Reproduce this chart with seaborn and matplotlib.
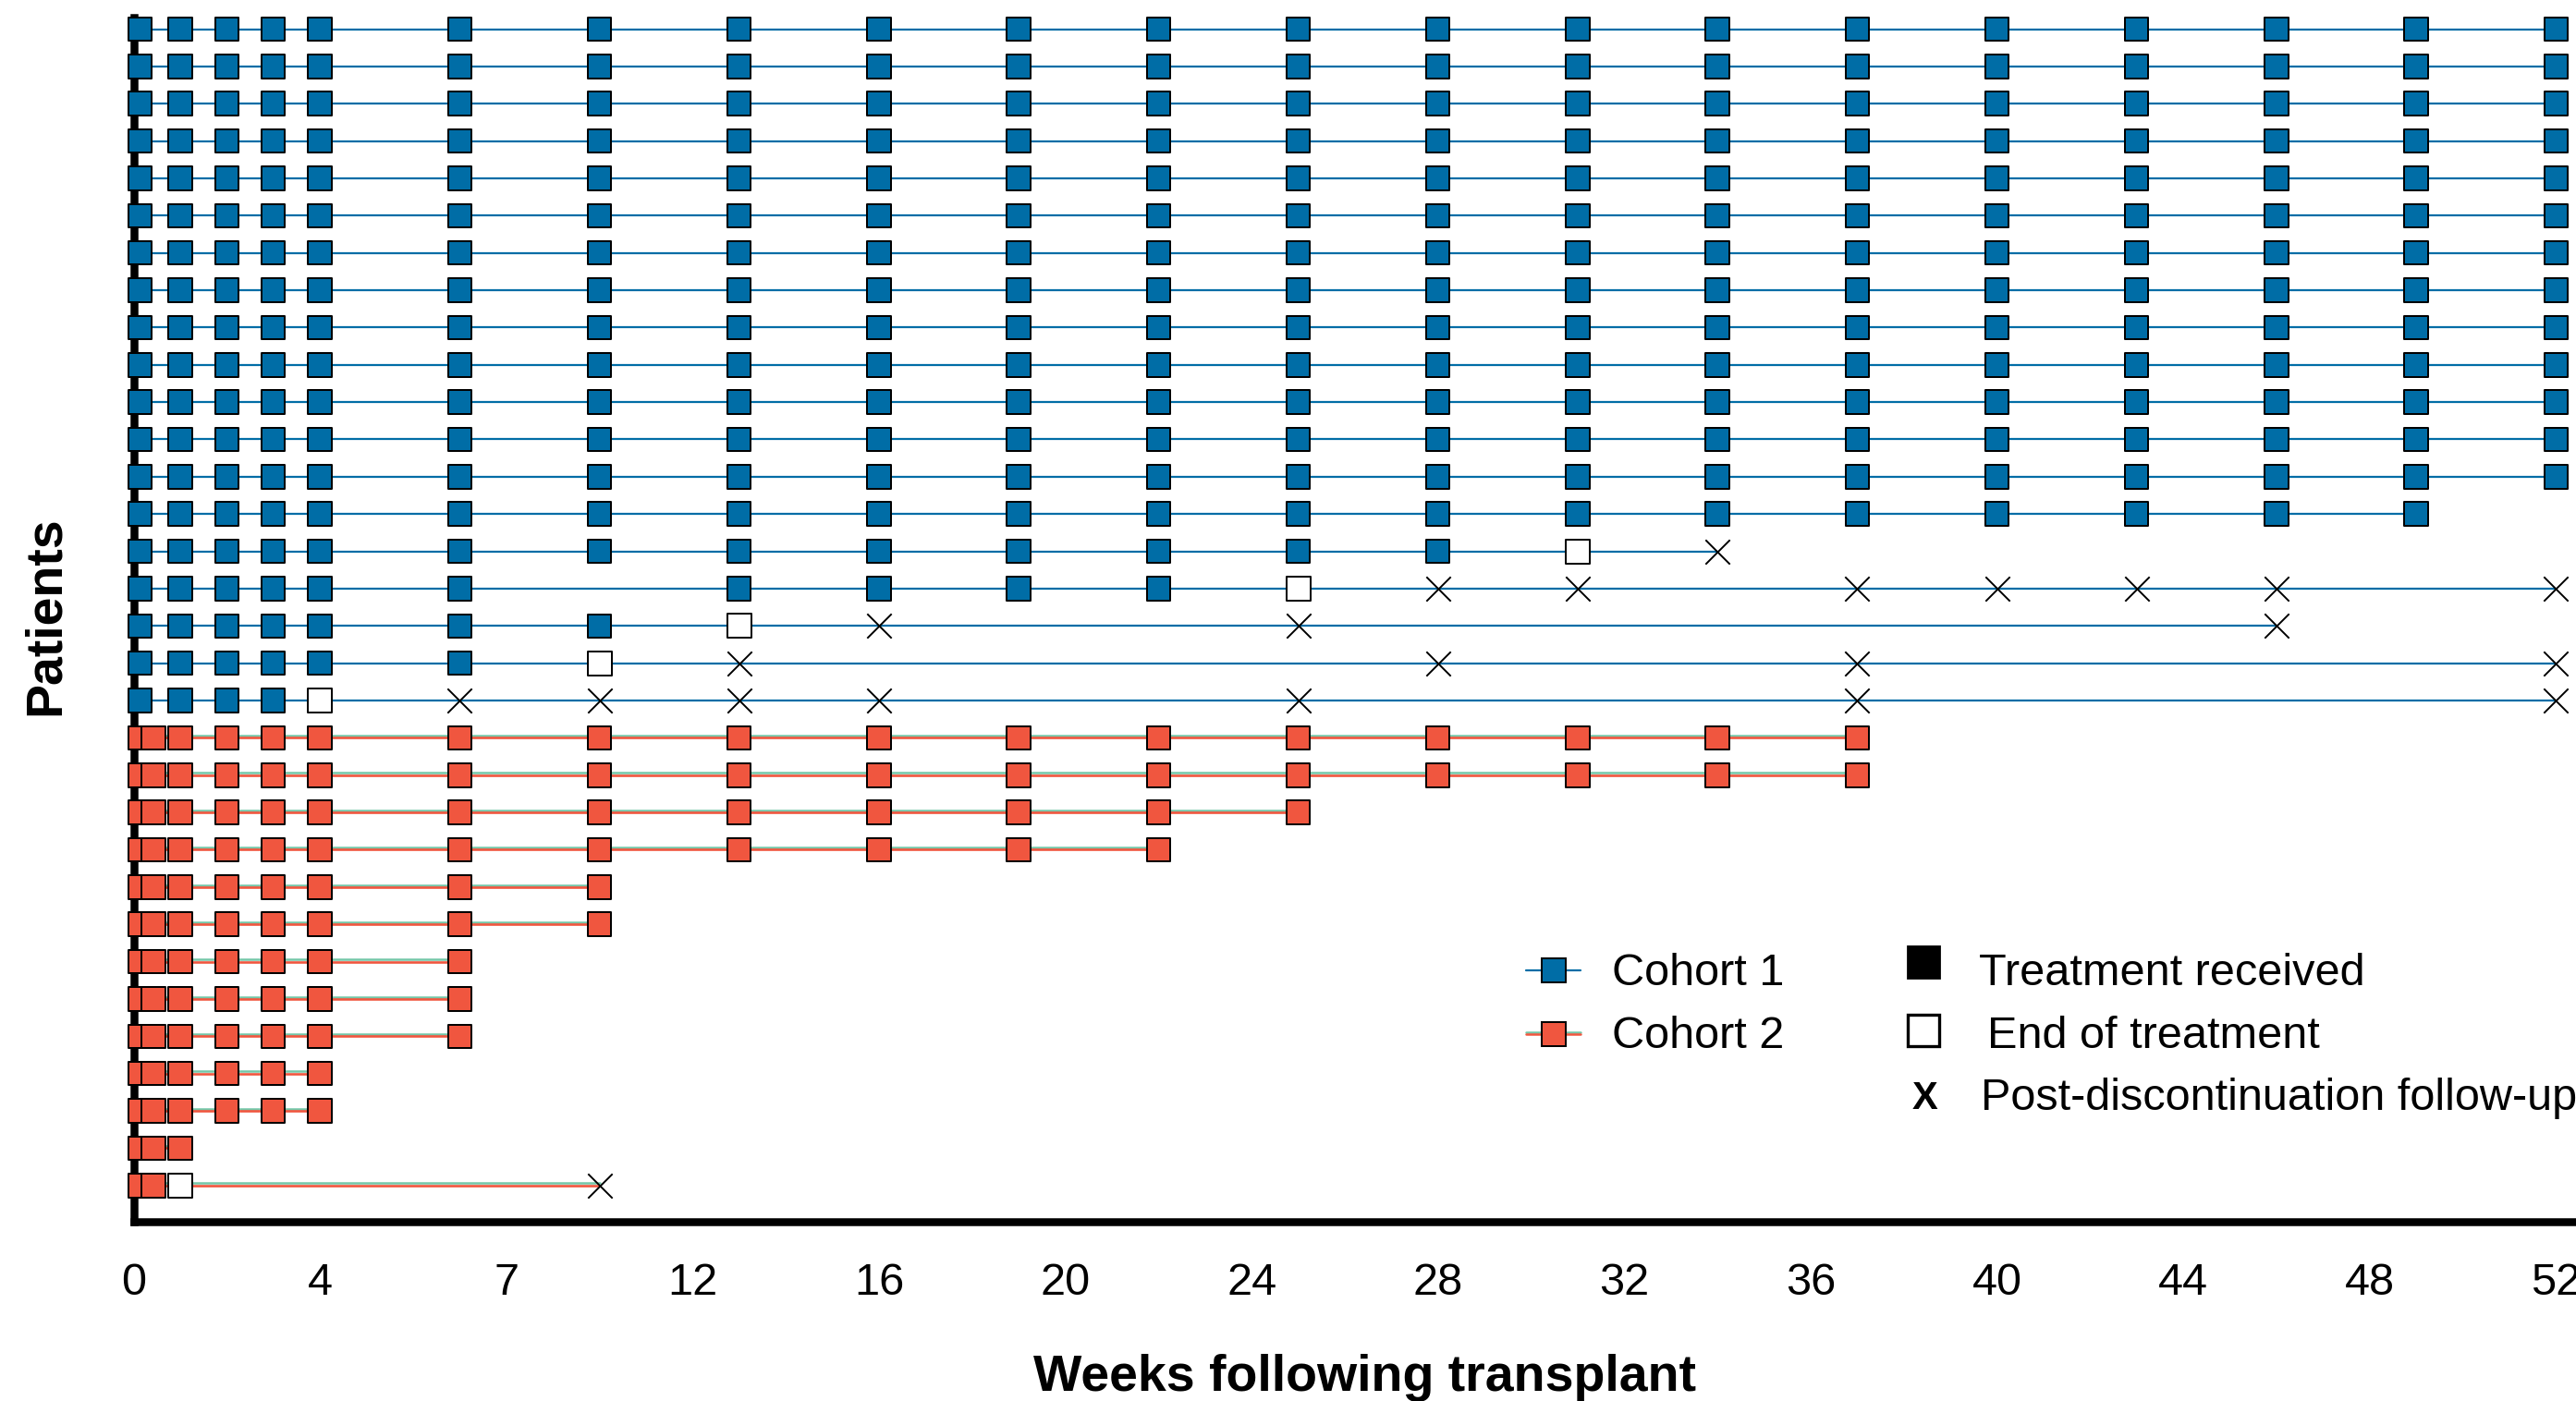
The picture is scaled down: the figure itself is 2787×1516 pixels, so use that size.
import numpy as np
import pandas as pd
import matplotlib
matplotlib.use("Agg")
import matplotlib.pyplot as plt
import matplotlib.transforms as mtransforms
from matplotlib.lines import Line2D
import seaborn as sns

# ---------------- data ----------------
visit_weeks_c1 = [0.14, 1, 2, 3, 4, 7, 10, 13, 16, 19, 22, 25, 28, 31, 34, 37, 40, 43, 46, 49, 52]
visit_weeks_c2 = [0.14, 0.43, 1, 2, 3, 4, 7, 10, 13, 16, 19, 22, 25, 28, 31, 34, 37]

# Cohort 1 patients, listed top to bottom
c1_last_treated = [52, 52, 52, 52, 52, 52, 52, 52, 52, 52, 52, 52, 52, 49, 28, 22, 10, 7, 3]
c1_missed_visits = [[], [], [], [], [], [], [], [], [], [], [], [], [], [], [], [10], [], [], []]
c1_end_of_treatment = [None, None, None, None, None, None, None, None, None, None, None, None, None,
                       None, 31, 25, 13, 10, 4]
c1_followup = [[], [], [], [], [], [], [], [], [], [], [], [], [], [],
               [34],
               [28, 31, 37, 40, 43, 46, 52],
               [16, 25, 46],
               [13, 28, 37, 52],
               [7, 10, 13, 16, 25, 37, 52]]

# Cohort 2 patients, listed top to bottom
c2_last_treated = [37, 37, 25, 22, 10, 10, 7, 7, 7, 4, 4, 1, 0.43]
c2_end_of_treatment = [None, None, None, None, None, None, None, None, None, None, None, None, 1]
c2_followup = [[], [], [], [], [], [], [], [], [], [], [], [], [10]]

x_tick_positions = [0, 4, 8, 12, 16, 20, 24, 28, 32, 36, 40, 44, 48, 52]
x_tick_labels = ["0", "4", "7", "12", "16", "20", "24", "28", "32", "36", "40", "44", "48", "52"]

cohort_names = ["Cohort 1", "Cohort 2"]
BLUE = "#006DA6"
RED = "#F0563F"
TEAL = "#74C7A8"
palette = {"Cohort 1": BLUE, "Cohort 2": RED}

# ---------------- build the event table ----------------
records = []
n_patients = len(c1_last_treated) + len(c2_last_treated)
row = n_patients
pid = 0
for cohort, schedule, last, missed, ends, fus in [
    ("Cohort 1", visit_weeks_c1, c1_last_treated, c1_missed_visits, c1_end_of_treatment, c1_followup),
    ("Cohort 2", visit_weeks_c2, c2_last_treated, [[] for _ in c2_last_treated], c2_end_of_treatment, c2_followup),
]:
    for i in range(len(last)):
        for w in schedule:
            if w <= last[i] and w not in missed[i]:
                records.append((pid, row, cohort, w, "treated"))
        if ends[i] is not None:
            records.append((pid, row, cohort, ends[i], "end"))
        for w in fus[i]:
            records.append((pid, row, cohort, w, "followup"))
        pid += 1
        row -= 1

events = pd.DataFrame(records, columns=["pid", "row", "cohort", "week", "kind"])
events = events.sort_values(["pid", "week"]).reset_index(drop=True)

# ---------------- figure ----------------
W, H, DPI = 2787, 1516, 200
sns.set_style("white")
plt.rcParams["font.family"] = ["Liberation Sans", "DejaVu Sans"]
plt.rcParams["text.color"] = "black"
plt.rcParams["axes.labelcolor"] = "black"
plt.rcParams["xtick.color"] = "black"

fig = plt.figure(figsize=(W / DPI, H / DPI), dpi=DPI)
x0_px, y_axis_px = 144.5, 1321.7
ax = fig.add_axes([x0_px / W, 1 - y_axis_px / H, 1 - x0_px / W, (y_axis_px - 19.4) / H])

# teal under-line for cohort 2 (slightly shifted upward)
n_before = len(ax.lines)
sns.lineplot(data=events[events.cohort == "Cohort 2"], x="week", y="row", units="pid",
             estimator=None, sort=True, color=TEAL, linewidth=0.9, legend=False, ax=ax, zorder=1.8)
shift = mtransforms.ScaledTranslation(0, 2.3 / DPI, fig.dpi_scale_trans)
for ln in ax.lines[n_before:]:
    ln.set_transform(ax.transData + shift)

# main patient lines
sns.lineplot(data=events, x="week", y="row", units="pid", estimator=None, sort=True,
             hue="cohort", palette=palette, linewidth=0.8, legend=False, ax=ax, zorder=2)
for ln in ax.lines:
    if matplotlib.colors.same_color(ln.get_color(), RED):
        ln.set_linewidth(0.95)

# markers
sq = 9.2
sns.scatterplot(data=events[events.kind == "treated"], x="week", y="row", hue="cohort",
                palette=palette, marker="s", s=sq ** 2, edgecolor="black", linewidth=0.72,
                legend=False, ax=ax, zorder=4, clip_on=False)
sns.scatterplot(data=events[events.kind == "end"], x="week", y="row", color="white",
                marker="s", s=sq ** 2, edgecolor="black", linewidth=0.72,
                legend=False, ax=ax, zorder=4, clip_on=False)
sns.scatterplot(data=events[events.kind == "followup"], x="week", y="row", color="black",
                marker="x", s=9.5 ** 2, linewidth=0.7, legend=False, ax=ax, zorder=4, clip_on=False)

# axes styling
ax.set_xlim(0, (W - x0_px) / 50.4)
ax.set_ylim(0.035, 32.3)
ax.set_xticks(x_tick_positions)
ax.set_xticklabels(x_tick_labels)
ax.set_yticks([])
ax.set_xlabel("")
ax.set_ylabel("")
sns.despine(ax=ax, top=True, right=True)
for side in ["left", "bottom"]:
    ax.spines[side].set_linewidth(3.06)
    ax.spines[side].set_color("black")
    ax.spines[side].set_capstyle("projecting")
    ax.spines[side].set_zorder(2.5)
ax.tick_params(axis="x", direction="out", length=8.75, width=2.9, color="black",
               pad=7.3, labelsize=17.5, labelcolor="black")
ax.patch.set_alpha(0)

# axis titles
fig.text(1476 / W, 1 - 1505 / H, "Weeks following transplant", ha="center", va="baseline",
         fontsize=20, fontweight="bold", color="black")
fig.text(50 / W, 1 - 666 / H, "Patients", ha="center", va="center", rotation=90,
         fontsize=20, fontweight="bold", color="black")

# ---------------- legends (drawn manually) ----------------
def fx(x):
    return x / W

def fy(y):
    return 1 - y / H

for name, yc, yb in [("Cohort 1", 1050, 1066), ("Cohort 2", 1119, 1134)]:
    col = palette[name]
    if name == "Cohort 2":
        fig.add_artist(Line2D([fx(1651), fx(1710)], [fy(yc - 2.3), fy(yc - 2.3)],
                              transform=fig.transFigure, color=TEAL, lw=0.9))
    fig.add_artist(Line2D([fx(1651), fx(1710)], [fy(yc), fy(yc)], transform=fig.transFigure,
                          color=col, lw=0.9 if name == "Cohort 2" else 0.8))
    fig.add_artist(Line2D([fx(1681)], [fy(yc)], transform=fig.transFigure, marker="s",
                          markersize=sq, markerfacecolor=col, markeredgecolor="black",
                          markeredgewidth=0.72, linestyle="none"))
    fig.text(fx(1744), fy(yb), name, ha="left", va="baseline", fontsize=17.5, color="black")

fig.add_artist(Line2D([fx(2081)], [fy(1041)], transform=fig.transFigure, marker="s",
                      markersize=12.2, markerfacecolor="black", markeredgecolor="black",
                      markeredgewidth=1.0, linestyle="none"))
fig.text(fx(2141), fy(1066), "Treatment received", ha="left", va="baseline", fontsize=17.5,
         color="black")

fig.add_artist(Line2D([fx(2081)], [fy(1115)], transform=fig.transFigure, marker="s",
                      markersize=11.9, markerfacecolor="white", markeredgecolor="black",
                      markeredgewidth=1.2, linestyle="none"))
fig.text(fx(2150), fy(1134), "End of treatment", ha="left", va="baseline", fontsize=17.5,
         color="black")

fig.text(fx(2083), fy(1200), "X", ha="center", va="baseline", fontsize=15, fontweight="bold",
         color="black")
fig.text(fx(2143), fy(1201), "Post-discontinuation follow-up", ha="left", va="baseline",
         fontsize=17.5, color="black")

fig.savefig("out.png", dpi=DPI, facecolor="white")
